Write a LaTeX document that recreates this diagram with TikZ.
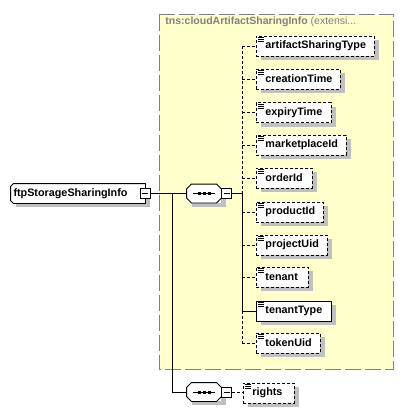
\documentclass[tikz,border=0pt]{standalone}
\usepackage{fontspec}
\setmainfont{Liberation Sans}
\usetikzlibrary{shadows}
\definecolor{boxyellow}{HTML}{FFFFCC}
\definecolor{frame}{HTML}{808080}
\definecolor{shade}{HTML}{C0C0C0}
\newcommand\elfont{\fontsize{10.8}{12}\selectfont\bfseries}
\begin{document}
\begin{tikzpicture}[x=1pt,y=-1pt,line width=0.9pt,
  shd/.style={general shadow={fill=shade, shadow xshift=5pt, shadow yshift=-4pt}},
  elem/.style={draw, fill=white, rectangle, minimum height=20pt, inner xsep=0pt, inner ysep=0pt,
     align=left, anchor=west, font=\elfont, shd},
  opt/.style={elem, dash pattern=on 3pt off 2pt},
  dsh/.style={dash pattern=on 3pt off 2pt},
  mainel/.style={fill=white, rectangle, text width=134pt, align=left, minimum height=19pt, inner sep=0pt, font=\elfont, shd},
  minus/.style={draw, fill=white, rectangle, minimum size=10pt, inner sep=0pt,
     path picture={\draw[line width=0.8pt] ([xshift=2pt]path picture bounding box.west) -- ([xshift=-2pt]path picture bounding box.east);}},
  seq/.style={fill=white, rectangle, minimum width=34pt, minimum height=18pt, inner sep=0pt, shd}
]
\useasboundingbox (0,0) rectangle (419,412);
% background group box
\draw[fill=boxyellow, draw=frame, line width=1pt, dash pattern=on 16pt off 4pt] (159,15) rectangle (393,369);
\node[anchor=west, inner sep=0pt, text=frame, font=\fontsize{10.5}{12}\selectfont] (title) at (165,22)
  {\bfseries tns:cloudArtifactSharingInfo\mdseries{} (extensi...};
% main element
\node[mainel] (main) at (78,193.5) {\hspace*{2.5pt}ftpStorageSharingInfo};
\draw ([xshift=3pt]main.north west) -- (main.north east) -- (main.south east)
  -- ([xshift=3pt]main.south west) -- ([yshift=3pt]main.south west) -- ([yshift=-3pt]main.north west) -- cycle;
\node[minus] (mm) at (main.east) {};
% sequences
\node[seq] (s1) at (204,193.5) {};
\node[seq] (s2) at (204,392) {};
\foreach \s in {s1,s2}{
  \draw ([xshift=5pt]\s.north west) -- ([xshift=-5pt]\s.north east) -- ([yshift=-5pt]\s.north east)
    -- ([yshift=5pt]\s.south east) -- ([xshift=-5pt]\s.south east) -- ([xshift=5pt]\s.south west)
    -- ([yshift=5pt]\s.south west) -- ([yshift=-5pt]\s.north west) -- cycle;
  \draw[line width=0.9pt] ([xshift=-11pt]\s.center) -- ([xshift=11pt]\s.center);
  \foreach \dx in {-5,0,5}{
    \fill ([xshift=\dx pt]\s.center) ++(-1.5,-1.5) rectangle ++(3,3);
  }
}
\node[minus, anchor=west] (sm1) at (s1.east) {};
\node[minus, anchor=west] (sm2) at (s2.east) {};
% children
\node[opt, text width=118pt] (c1) at (256,46) {\hspace*{9pt}artifactSharingType};
\node[opt, text width=84pt] (c2) at (256,79) {\hspace*{9pt}creationTime};
\node[opt, text width=75pt] (c3) at (256,112.5) {\hspace*{9pt}expiryTime};
\node[opt, text width=90pt] (c4) at (256,145) {\hspace*{9pt}marketplaceId};
\node[opt, text width=56pt] (c5) at (256,178) {\hspace*{9pt}orderId};
\node[opt, text width=67pt] (c6) at (256,212) {\hspace*{9pt}productId};
\node[opt, text width=71pt] (c7) at (256,245) {\hspace*{9pt}projectUid};
\node[opt, text width=52pt] (c8) at (256,277) {\hspace*{9pt}tenant};
\node[elem, text width=75pt] (c9) at (256,311) {\hspace*{9pt}tenantType};
\node[opt, text width=64pt] (c10) at (256,343) {\hspace*{9pt}tokenUid};
\node[opt, text width=51pt] (r) at (243,393) {\hspace*{9pt}rights};
% icons
\foreach \n in {c1,c2,c3,c4,c5,c6,c7,c8,c9,c10,r}{
  \foreach \dy in {2,4,6}{
    \draw[line width=0.8pt] ([xshift=2pt,yshift=-\dy pt]\n.north west) -- ++(6,0);
  }
}
% connectors
\coordinate (j) at (172,193.5);
\coordinate (t) at (242,193.5);
\draw (mm.east) -- (s1.west);
\draw (j) |- (s2.west);
\draw (sm1.east) -- (t);
\draw[dsh] (t) -- (t |- c1.west);
\draw (t) -- (t |- c9.west);
\draw[dsh] (t |- c9.west) -- (t |- c10.west);
\foreach \n in {c1,c2,c3,c4,c5,c6,c7,c8,c10}{
  \draw[dsh] (t |- \n.west) -- (\n.west);
}
\draw (t |- c9.west) -- (c9.west);
\draw[dsh] (sm2.east) -- (r.west |- sm2.east);
\end{tikzpicture}
\end{document}
